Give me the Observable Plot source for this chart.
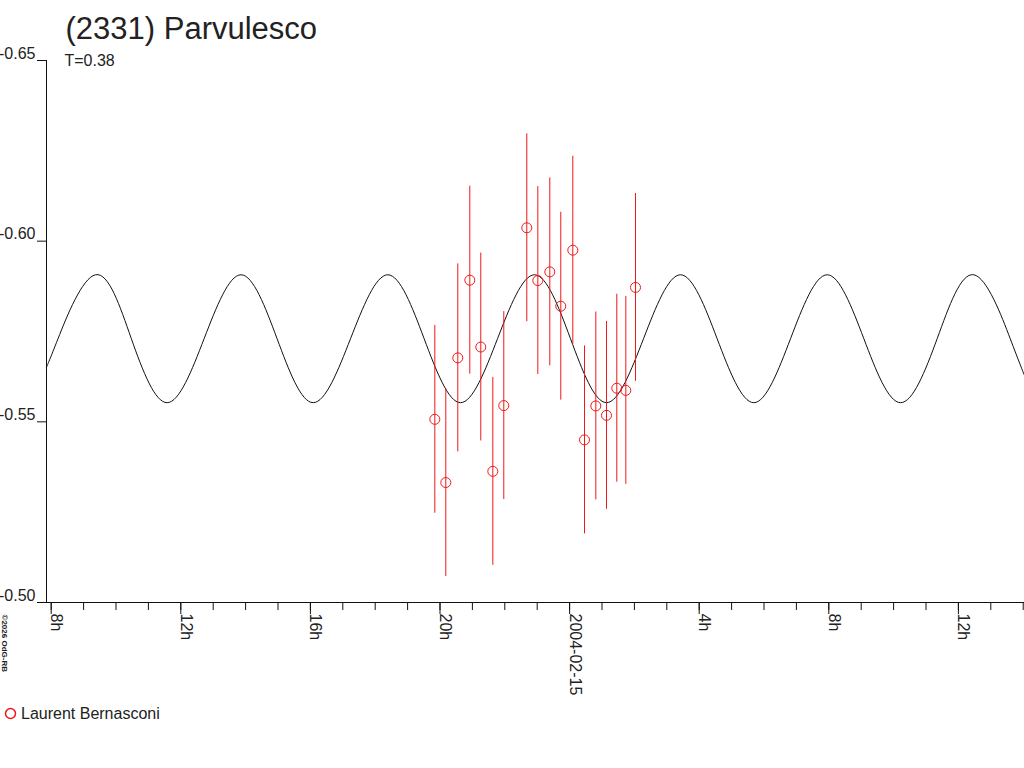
<!DOCTYPE html>
<html>
<head>
<meta charset="utf-8">
<script src="https://cdn.jsdelivr.net/npm/d3@7"></script>
<script src="https://cdn.jsdelivr.net/npm/@observablehq/plot@0.6"></script>
<style>
  html, body { margin: 0; padding: 0; background: #fff; }
  #chart { width: 1024px; height: 768px; overflow: hidden; }
</style>
</head>
<body>
<div id="chart"></div>
<script>
// Hours are counted from 2004-02-14 00:00 UT
const titleText = "(2331) Parvulesco";
const subtitleText = "T=0.38";
const observer = "Laurent Bernasconi";
const copyrightText = "\u00A92026 OdG-RB";

const xStartHour = 7.855;
const xEndHour = 38.04;

const obsHours = [19.840, 20.179, 20.549, 20.920, 21.259, 21.630, 21.969, 22.679, 23.019,
                  23.389, 23.728, 24.099, 24.460, 24.809, 25.139, 25.457, 25.735, 26.034];
const obsMag = [-0.5507, -0.5332, -0.5677, -0.5892, -0.5707, -0.5363, -0.5545, -0.6037, -0.5891,
                -0.5915, -0.5820, -0.5975, -0.5450, -0.5544, -0.5518, -0.5593, -0.5587, -0.5872];
const obsErr = [0.026, 0.026, 0.026, 0.026, 0.026, 0.026, 0.026, 0.026, 0.026,
                0.026, 0.026, 0.026, 0.026, 0.026, 0.026, 0.026, 0.026, 0.026];

// fitted lightcurve (edges, extrema and mean-level crossings)
const fitHours = [7.855, 8.21, 9.367, 10.474, 11.580, 12.719, 13.858, 14.972, 16.086, 17.238,
                  18.389, 19.511, 20.633, 21.775, 22.917, 24.028, 25.139, 26.281, 27.423, 28.554,
                  29.685, 30.818, 31.951, 33.082, 34.213, 35.344, 36.475, 37.60, 38.04];
const fitMag = [-0.5651, -0.5730, -0.5907, -0.5730, -0.5553, -0.5730, -0.5907, -0.5730, -0.5553, -0.5730,
                -0.5907, -0.5730, -0.5553, -0.5730, -0.5907, -0.5730, -0.5553, -0.5730, -0.5907, -0.5730,
                -0.5553, -0.5730, -0.5907, -0.5730, -0.5553, -0.5730, -0.5907, -0.5730, -0.5628];

const yTicks = [-0.65, -0.60, -0.55, -0.50];
const minorTickHours = d3.range(8, 39, 1);
const majorTickHours = [8, 12, 16, 20, 24, 28, 32, 36];
const majorTickLabels = ["8h", "12h", "16h", "20h", "2004-02-15", "4h", "8h", "12h"];

const T0 = Date.UTC(2004, 1, 14);
const toDate = h => new Date(T0 + h * 3600e3);

const obs = obsHours.map((h, i) => ({t: toDate(h), mag: obsMag[i], err: obsErr[i]}));
const fit = fitHours.map((h, i) => ({t: toDate(h), mag: fitMag[i]}));
const minorTicks = minorTickHours.map(toDate);
const majorTicks = majorTickHours.map(toDate);

const RED = "#f01818";
const INK = "#222";

const chart = Plot.plot({
  width: 1024,
  height: 768,
  marginLeft: 46,
  marginRight: 0,
  marginTop: 60,
  marginBottom: 166,
  style: {
    fontFamily: "'Liberation Sans', Arial, sans-serif",
    fontSize: "16px",
    color: INK,
    background: "#fff",
    overflow: "visible"
  },
  x: {type: "utc", domain: [toDate(xStartHour), toDate(xEndHour)]},
  y: {domain: [-0.65, -0.50], reverse: true},
  marks: [
    Plot.line(fit, {x: "t", y: "mag", curve: "natural", stroke: "#111", strokeWidth: 1}),
    Plot.ruleX(obs, {x: "t", y1: d => d.mag - d.err, y2: d => d.mag + d.err, stroke: RED, strokeWidth: 1}),
    Plot.dot(obs, {x: "t", y: "mag", r: 5, stroke: RED, fill: "none", strokeWidth: 1}),
    Plot.ruleX([toDate(xStartHour)], {stroke: "#111", shapeRendering: "crispEdges"}),
    Plot.ruleY([-0.50], {stroke: "#111", shapeRendering: "crispEdges"}),
    Plot.axisX({ticks: minorTicks, tickSize: 8, stroke: "#111", fill: "none", label: null}),
    Plot.axisX({ticks: majorTicks, tickSize: 12, stroke: "#111", fill: "none", label: null}),
    Plot.text(majorTicks, {
      x: d => d, text: (d, i) => majorTickLabels[i],
      frameAnchor: "bottom", rotate: 90, textAnchor: "start", lineAnchor: "bottom",
      dy: 11, fill: INK, fontSize: 16
    }),
    Plot.axisY({ticks: yTicks, tickSize: 9, stroke: "#111", fill: "none", label: null}),
    Plot.text(yTicks, {
      y: d => d, text: d => d.toFixed(2),
      frameAnchor: "left", textAnchor: "end", lineAnchor: "bottom",
      dx: -11, dy: -2, fill: INK, fontSize: 16
    }),
    Plot.text([titleText], {
      text: d => d, frameAnchor: "top-left", textAnchor: "start", lineAnchor: "bottom",
      dx: 19, dy: -21.5, fontSize: 31, fill: INK
    }),
    Plot.text([subtitleText], {
      text: d => d, frameAnchor: "top-left", textAnchor: "start", lineAnchor: "bottom",
      dx: 18, dy: 5.5, fontSize: 16, fill: INK
    }),
    Plot.dot([observer], {frameAnchor: "bottom-left", dx: -36, dy: 111, r: 5, stroke: RED, fill: "none"}),
    Plot.text([observer], {
      text: d => d, frameAnchor: "bottom-left", textAnchor: "start", lineAnchor: "bottom",
      dx: -25.5, dy: 116, fontSize: 16, fill: INK
    }),
    Plot.text([copyrightText], {
      text: d => d, frameAnchor: "bottom-left", rotate: 90, textAnchor: "start", lineAnchor: "bottom",
      dx: -45, dy: 12, fontSize: 8, fontWeight: "bold", fill: INK
    })
  ]
});

document.getElementById("chart").appendChild(chart);
</script>
</body>
</html>
